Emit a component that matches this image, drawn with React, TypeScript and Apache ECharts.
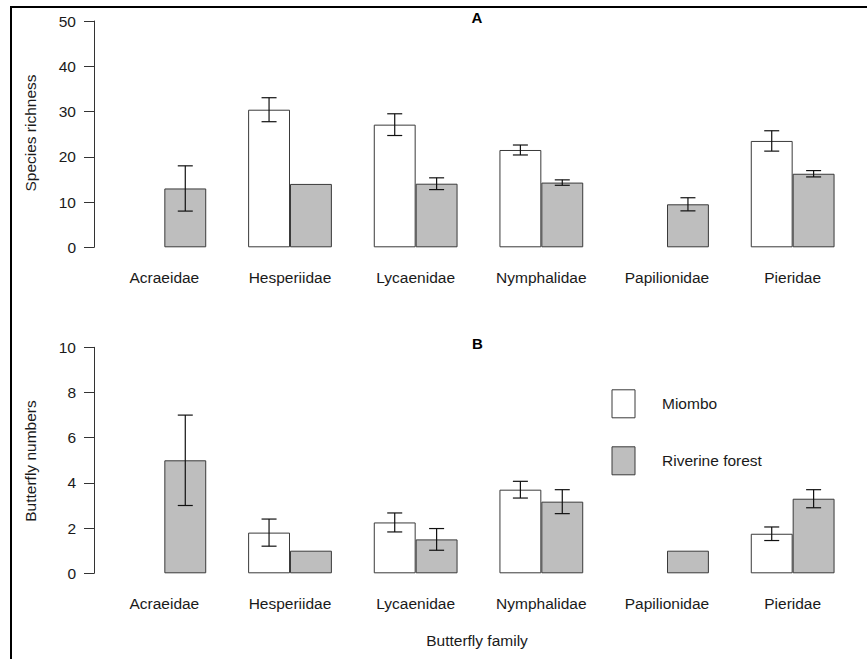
import React, { useEffect, useRef } from "react";
import * as echarts from "echarts";

const families = ["Acraeidae", "Hesperiidae", "Lycaenidae", "Nymphalidae", "Papilionidae", "Pieridae"];

// Panel A: species richness (mean, standard error)
const richMiombo = [0, 30.4, 27.1, 21.5, 0, 23.5];
const richMiomboSE = [0, 2.65, 2.4, 1.1, 0, 2.25];
const richRiverine = [13, 14, 14.05, 14.3, 9.5, 16.25];
const richRiverineSE = [5, 0, 1.3, 0.6, 1.45, 0.7];

// Panel B: butterfly numbers (mean, standard error)
const numMiombo = [0, 1.8, 2.25, 3.7, 0, 1.75];
const numMiomboSE = [0, 0.6, 0.42, 0.37, 0, 0.3];
const numRiverine = [5, 1, 1.5, 3.17, 1, 3.3];
const numRiverineSE = [2, 0, 0.48, 0.53, 0, 0.4];

const yTicksA = { min: 0, max: 50, interval: 10 };
const yTicksB = { min: 0, max: 10, interval: 2 };

const FONT = "'Liberation Sans', Arial, sans-serif";
const TXT = "#1a1a1a";
const AX = "#333";
const FS = 15.5;

function barData(vals: number[]) {
  return vals.map((v) => (v === 0 ? { value: 0, itemStyle: { borderWidth: 0 } } : v));
}

function errData(vals: number[], se: number[]) {
  return vals.map((v, i) => [i, v, se[i]]);
}

function makeErrSeries(name: string, gi: number, data: any[], sign: number) {
  return {
    type: "custom",
    name,
    xAxisIndex: gi,
    yAxisIndex: gi,
    encode: { x: 0, y: 1 },
    data,
    z: 10,
    renderItem: (params: any, api: any) => {
      const idx = api.value(0);
      const v = api.value(1);
      const e = api.value(2);
      if (!e || e <= 0) return { type: "group", children: [] };
      const c = api.coord([idx, v]);
      const band = api.size([1, 0])[0];
      const bw = band / 3;
      const x = c[0] + (sign * bw) / 2;
      const yt = api.coord([idx, v + e])[1];
      const yb = api.coord([idx, v - e])[1];
      const cap = 7.5;
      const st = { stroke: "#111", lineWidth: 1.2 };
      return {
        type: "group",
        children: [
          { type: "line", shape: { x1: x, y1: yt, x2: x, y2: yb }, style: st },
          { type: "line", shape: { x1: x - cap, y1: yt, x2: x + cap, y2: yt }, style: st },
          { type: "line", shape: { x1: x - cap, y1: yb, x2: x + cap, y2: yb }, style: st },
        ],
      };
    },
  };
}

export default function App() {
  const ref = useRef<HTMLDivElement>(null);
  useEffect(() => {
    if (!ref.current) return;
    const chart = echarts.init(ref.current, null, { renderer: "svg" });
    const gridL = 101.5;
    const gridW = 754;
    const xAxisCommon = {
      type: "category",
      data: families,
      axisLine: { show: false },
      axisTick: { show: false },
      axisLabel: { color: TXT, fontSize: FS, fontFamily: FONT, margin: 22, interval: 0 },
    };
    const yAxisCommon = {
      type: "value",
      offset: 7.5,
      splitLine: { show: false },
      axisLine: { show: true, lineStyle: { color: AX, width: 1 } },
      axisTick: { show: true, length: 10, lineStyle: { color: AX, width: 1 } },
      axisLabel: { color: TXT, fontSize: FS, fontFamily: FONT, margin: 18 },
    };
    const barStyleM = { color: "#ffffff", borderColor: "#3a3a3a", borderWidth: 1 };
    const barStyleR = { color: "#bebebe", borderColor: "#3a3a3a", borderWidth: 1 };
    const option: any = {
      animation: false,
      backgroundColor: "#ffffff",
      textStyle: { fontFamily: FONT },
      grid: [
        { left: gridL, width: gridW, top: 21, height: 226.3 },
        { left: gridL, width: gridW, top: 347.3, height: 226 },
      ],
      xAxis: [
        { ...xAxisCommon, gridIndex: 0 },
        { ...xAxisCommon, gridIndex: 1 },
      ],
      yAxis: [
        { ...yAxisCommon, gridIndex: 0, ...yTicksA },
        { ...yAxisCommon, gridIndex: 1, ...yTicksB },
      ],
      legend: {
        data: ["Miombo", "Riverine forest"],
        orient: "vertical",
        left: 611.5,
        top: 389.3,
        padding: 0,
        icon: "rect",
        itemWidth: 23,
        itemHeight: 28,
        itemGap: 28,
        selectedMode: false,
        itemStyle: { borderWidth: 1, borderColor: "#3a3a3a" },
        textStyle: { color: TXT, fontSize: FS, fontFamily: FONT, padding: [0, 0, 2, 22] },
      },
      series: [
        {
          type: "bar",
          name: "Miombo",
          xAxisIndex: 0,
          yAxisIndex: 0,
          data: barData(richMiombo),
          barGap: "0%",
          barCategoryGap: "33.333%",
          itemStyle: barStyleM,
        },
        {
          type: "bar",
          name: "Riverine forest",
          xAxisIndex: 0,
          yAxisIndex: 0,
          data: barData(richRiverine),
          barGap: "0%",
          barCategoryGap: "33.333%",
          itemStyle: barStyleR,
        },
        {
          type: "bar",
          name: "Miombo",
          xAxisIndex: 1,
          yAxisIndex: 1,
          data: barData(numMiombo),
          barGap: "0%",
          barCategoryGap: "33.333%",
          itemStyle: barStyleM,
        },
        {
          type: "bar",
          name: "Riverine forest",
          xAxisIndex: 1,
          yAxisIndex: 1,
          data: barData(numRiverine),
          barGap: "0%",
          barCategoryGap: "33.333%",
          itemStyle: barStyleR,
        },
        makeErrSeries("Miombo SE A", 0, errData(richMiombo, richMiomboSE), -1),
        makeErrSeries("Riverine SE A", 0, errData(richRiverine, richRiverineSE), 1),
        makeErrSeries("Miombo SE B", 1, errData(numMiombo, numMiomboSE), -1),
        makeErrSeries("Riverine SE B", 1, errData(numRiverine, numRiverineSE), 1),
      ],
      graphic: [
        { type: "line", shape: { x1: 10, y1: 7, x2: 867, y2: 7 }, style: { stroke: "#000", lineWidth: 2 } },
        { type: "line", shape: { x1: 11, y1: 6, x2: 11, y2: 659 }, style: { stroke: "#000", lineWidth: 2 } },
        {
          type: "text",
          x: 477,
          y: 17,
          style: { text: "A", fontSize: 15, fontWeight: "bold", fontFamily: FONT, fill: "#000", textAlign: "center", textVerticalAlign: "middle" },
        },
        {
          type: "text",
          x: 477.5,
          y: 343,
          style: { text: "B", fontSize: 15, fontWeight: "bold", fontFamily: FONT, fill: "#000", textAlign: "center", textVerticalAlign: "middle" },
        },
        {
          type: "text",
          x: 30,
          y: 133,
          rotation: Math.PI / 2,
          style: { text: "Species richness", fontSize: FS, fontFamily: FONT, fill: TXT, textAlign: "center", textVerticalAlign: "middle" },
        },
        {
          type: "text",
          x: 30,
          y: 461,
          rotation: Math.PI / 2,
          style: { text: "Butterfly numbers", fontSize: FS, fontFamily: FONT, fill: TXT, textAlign: "center", textVerticalAlign: "middle" },
        },
        {
          type: "text",
          x: 477,
          y: 640,
          style: { text: "Butterfly family", fontSize: FS, fontFamily: FONT, fill: TXT, textAlign: "center", textVerticalAlign: "middle" },
        },
      ],
    };
    chart.setOption(option);
    return () => chart.dispose();
  }, []);
  return (
    <div
      ref={ref}
      style={{ position: "fixed", left: 0, top: 0, width: 867, height: 659, background: "#fff" }}
    />
  );
}
